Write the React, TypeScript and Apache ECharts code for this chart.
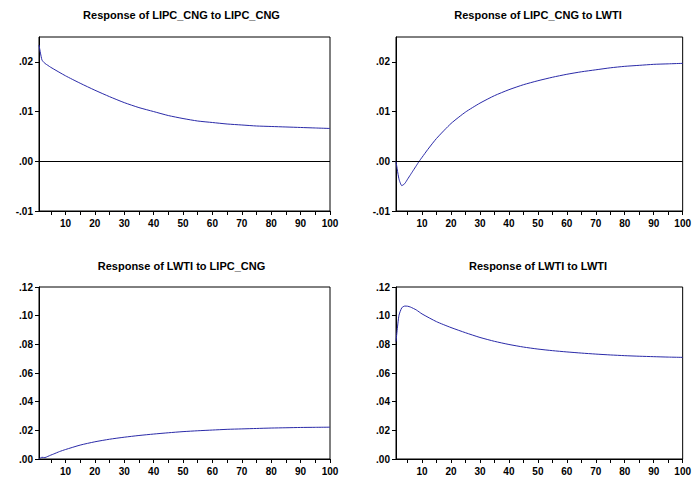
import React, { useEffect, useRef } from "react";
import * as echarts from "echarts";

// Titles of the four panels
const titles = [
  "Response of LIPC_CNG to LIPC_CNG",
  "Response of LIPC_CNG to LWTI",
  "Response of LWTI to LIPC_CNG",
  "Response of LWTI to LWTI",
];

// Periods (x) and responses (y)
const periodsCngCng = [1, 2, 3, 4, 5, 10, 15, 20, 25, 30, 35, 40, 45, 50, 55, 60, 65, 70, 75, 80, 85, 90, 95, 100];
const respCngCng = [0.0234, 0.0204, 0.0197, 0.0193, 0.0189, 0.0172, 0.0157, 0.0143, 0.0130, 0.0118, 0.0108, 0.0100, 0.0092, 0.0086, 0.0081, 0.0078, 0.0075, 0.0073, 0.0071, 0.0070, 0.0069, 0.0068, 0.0067, 0.0066];

const periodsCngWti = [1, 2, 3, 4, 5, 6, 7, 8, 9, 10, 12, 15, 20, 25, 30, 35, 40, 45, 50, 55, 60, 65, 70, 75, 80, 85, 90, 95, 100];
const respCngWti = [0.0, -0.0035, -0.0049, -0.0045, -0.0036, -0.0027, -0.0018, -0.0009, 0.0, 0.0008, 0.0024, 0.0046, 0.0076, 0.0099, 0.0117, 0.0132, 0.0144, 0.0154, 0.0162, 0.0169, 0.0175, 0.0180, 0.0184, 0.0188, 0.0191, 0.0193, 0.0195, 0.0196, 0.0197];

const periodsWtiCng = [1, 2, 3, 4, 5, 6, 8, 10, 15, 20, 25, 30, 35, 40, 45, 50, 55, 60, 65, 70, 75, 80, 85, 90, 95, 100];
const respWtiCng = [0.0, 0.0012, 0.0010, 0.0018, 0.0027, 0.0035, 0.0052, 0.0066, 0.0097, 0.0120, 0.0138, 0.0152, 0.0164, 0.0174, 0.0183, 0.0191, 0.0197, 0.0202, 0.0207, 0.0210, 0.0213, 0.0216, 0.0218, 0.0220, 0.0221, 0.0222];

const periodsWtiWti = [1, 2, 3, 4, 5, 6, 8, 10, 15, 20, 25, 30, 35, 40, 45, 50, 55, 60, 65, 70, 75, 80, 85, 90, 95, 100];
const respWtiWti = [0.082, 0.100, 0.1055, 0.1067, 0.1066, 0.1060, 0.1040, 0.1012, 0.0958, 0.0917, 0.0881, 0.0848, 0.0821, 0.0799, 0.0781, 0.0767, 0.0756, 0.0747, 0.0739, 0.0732, 0.0726, 0.0721, 0.0717, 0.0714, 0.0711, 0.0709];

// Axis tick values
const xTickValues = [5, 10, 15, 20, 25, 30, 35, 40, 45, 50, 55, 60, 65, 70, 75, 80, 85, 90, 95, 100];
const xLabelValues = [10, 20, 30, 40, 50, 60, 70, 80, 90, 100];

const FONT = "'Liberation Sans', Arial, sans-serif";
const LINE_COLOR = "#2a2aa8";

const grids = [
  { left: 39, top: 37, width: 291, height: 174 },
  { left: 396, top: 37, width: 290, height: 174 },
  { left: 39, top: 287, width: 291, height: 172 },
  { left: 396, top: 287, width: 290, height: 172 },
];

const yRanges = [
  { min: -0.01, max: 0.025, interval: 0.01 },
  { min: -0.01, max: 0.025, interval: 0.01 },
  { min: 0, max: 0.12, interval: 0.02 },
  { min: 0, max: 0.12, interval: 0.02 },
];

const seriesData = [
  [periodsCngCng, respCngCng],
  [periodsCngWti, respCngWti],
  [periodsWtiCng, respWtiCng],
  [periodsWtiWti, respWtiWti],
];

function fmtY(v: number, step: number) {
  const k = v / step;
  if (Math.abs(k - Math.round(k)) > 1e-6) return "";
  let s = v.toFixed(2);
  s = s.replace("0.", ".");
  if (s === "-.00") s = ".00";
  return s;
}

export default function App() {
  const ref = useRef<HTMLDivElement>(null);
  useEffect(() => {
    if (!ref.current) return;
    const chart = echarts.init(ref.current, null, { renderer: "svg" });
    const option: any = {
      animation: false,
      backgroundColor: "#fff",
      grid: grids.map((g) => ({
        ...g,
        show: true,
        borderColor: "#000",
        borderWidth: 1,
        backgroundColor: "transparent",
        containLabel: false,
      })),
      xAxis: grids.map((_, i) => ({
        type: "value",
        gridIndex: i,
        min: 1,
        max: 100,
        axisLine: { show: true, onZero: false, lineStyle: { color: "#000", width: 1 } },
        axisTick: { show: true, customValues: xTickValues, length: 4, lineStyle: { color: "#000" } },
        axisLabel: {
          customValues: xLabelValues,
          color: "#000",
          fontWeight: "bold",
          fontSize: 10,
          fontFamily: FONT,
          margin: 7,
        },
        splitLine: { show: false },
      })),
      yAxis: grids.map((_, i) => ({
        type: "value",
        gridIndex: i,
        min: yRanges[i].min,
        max: yRanges[i].max,
        interval: yRanges[i].interval,
        axisLine: { show: true, onZero: false, lineStyle: { color: "#000", width: 1 } },
        axisTick: { show: true, length: 4, lineStyle: { color: "#000" } },
        axisLabel: {
          color: "#000",
          fontWeight: "bold",
          fontSize: 10,
          fontFamily: FONT,
          margin: 6,
          showMaxLabel: i >= 2,
          formatter: (v: number) => fmtY(v, yRanges[i].interval),
        },
        splitLine: { show: false },
      })),
      series: seriesData.map(([p, v], i) => ({
        type: "line",
        xAxisIndex: i,
        yAxisIndex: i,
        data: (p as number[]).map((x, j) => [x, (v as number[])[j]]),
        showSymbol: false,
        symbol: "none",
        lineStyle: { color: LINE_COLOR, width: 1 },
        smooth: 0.2,
        silent: true,
        markLine:
          i < 2
            ? {
                silent: true,
                symbol: "none",
                label: { show: false },
                lineStyle: { color: "#000", width: 1, type: "solid" },
                data: [{ yAxis: 0 }],
              }
            : undefined,
      })),
      graphic: titles.map((t, i) => ({
        type: "text",
        x: grids[i].left + grids[i].width / 2 - 3,
        y: i < 2 ? 15 : 266,
        style: {
          text: t,
          textAlign: "center",
          textVerticalAlign: "middle",
          font: `bold 11px ${FONT}`,
          fill: "#000",
        },
      })),
    };
    chart.setOption(option);
    return () => chart.dispose();
  }, []);
  return (
    <div
      ref={ref}
      style={{ position: "absolute", left: 0, top: 0, width: 694, height: 478 }}
    />
  );
}
